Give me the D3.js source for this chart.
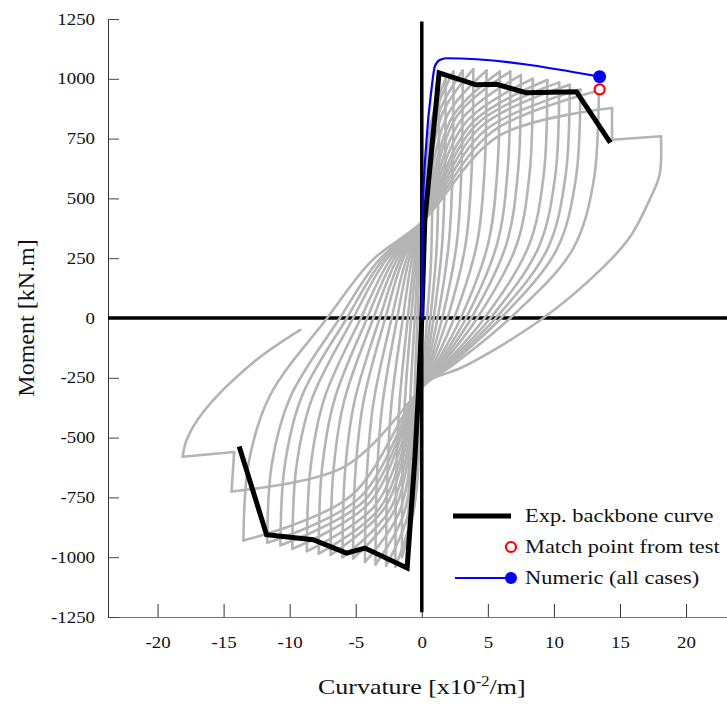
<!DOCTYPE html>
<html>
<head>
<meta charset="utf-8">
<script src="https://cdn.jsdelivr.net/npm/d3@7"></script>
<style>
  body { margin: 0; background: #fff; }
  text { font-family: "Liberation Serif", "Times New Roman", serif; fill: #111; }
</style>
</head>
<body>
<svg id="chart" width="727" height="706"></svg>
<script>
// tick labels
const curvTicks = [-20, -15, -10, -5, 0, 5, 10, 15, 20];
const momentTicks = [-1250, -1000, -750, -500, -250, 0, 250, 500, 750, 1000, 1250];

// test hysteresis (curvature x1e-2/m, moment kN.m)
const loopsEarly = [
  [0, 0], [0.32, 590], [0.8, 720],
  [0.78, 430], [0.68, 215], [0.4, 0], [0.14, -200], [0, -290],
  [-0.24, -560], [-0.6, -700],
  [-0.58, -455], [-0.51, -245], [-0.32, 0], [-0.17, 240], [0, 400],
  [0.52, 740], [1.3, 900],
  [1.26, 540], [1.1, 270], [0.65, 0], [0.22, -200], [0, -290],
  [-0.4, -720], [-1.0, -900],
  [-0.97, -585], [-0.85, -315], [-0.53, 0], [-0.28, 240], [0, 400],
  [0.72, 820], [1.8, 1000],
  [1.75, 600], [1.53, 300], [0.9, 0], [0.31, -200], [0, -290],
  [-0.6, -800], [-1.5, -1000],
  [-1.46, -650], [-1.28, -350], [-0.8, 0], [-0.42, 240], [0, 400],
  [0.96, 845], [2.4, 1030],
  [2.33, 620], [2.04, 310], [1.2, 0], [0.41, -200], [0, -290],
  [-0.8, -830], [-2.0, -1040],
  [-1.94, -675], [-1.7, -365], [-1.06, 0], [-0.56, 240], [0, 400],
  [1.24, 850], [3.1, 1035],
  [3.0, 620], [2.64, 310], [1.55, 0], [0.53, -200], [0, -290],
  [-1.08, -830], [-2.7, -1035],
  [-2.62, -675], [-2.3, -360], [-1.43, 0], [-0.76, 240], [0, 400],
  [1.56, 855], [3.9, 1040],
  [3.78, 625], [3.32, 310], [1.95, 0], [0.66, -200], [0, -290],
  [-1.4, -825], [-3.5, -1030],
  [-3.4, -670], [-2.98, -360], [-1.86, 0], [-0.98, 240], [0, 400]
];
const loopsMid = [
  [1.96, 850], [4.9, 1035],
  [4.75, 620], [4.17, 310], [2.45, 0], [0.83, -200], [0, -290],
  [-1.72, -815], [-4.3, -1020],
  [-4.17, -665], [-3.66, -355], [-2.28, 0], [-1.2, 240], [0, 400],
  [2.36, 845], [5.9, 1030],
  [5.72, 620], [5.02, 310], [2.95, 0], [1.0, -200], [0, -290],
  [-2.08, -805], [-5.2, -1005],
  [-5.04, -655], [-4.42, -350], [-2.76, 0], [-1.46, 240], [0, 400],
  [2.68, 845], [6.7, 1030],
  [6.5, 620], [5.7, 310], [3.35, 0], [1.14, -200], [0, -290],
  [-2.4, -800], [-6.0, -1000],
  [-5.82, -650], [-5.1, -350], [-3.18, 0], [-1.68, 240], [0, 400],
  [3.0, 830], [7.5, 1015],
  [7.28, 610], [6.38, 305], [3.75, 0], [1.28, -200], [0, -290],
  [-2.76, -790], [-6.9, -990],
  [-6.7, -645], [-5.87, -345], [-3.66, 0], [-1.93, 240], [0, 400],
  [3.36, 820], [8.4, 1000],
  [8.15, 600], [7.14, 300], [4.2, 0], [1.43, -200], [0, -290],
  [-3.12, -790], [-7.8, -985],
  [-7.57, -640], [-6.63, -345], [-4.13, 0], [-2.18, 240], [0, 400]
];
const loopsLate = [
  [3.8, 815], [9.5, 995],
  [9.22, 595], [8.08, 300], [4.75, 0], [1.62, -200], [0, -290],
  [-3.48, -780], [-8.7, -975],
  [-8.44, -635], [-7.4, -340], [-4.61, 0], [-2.44, 240], [0, 400],
  [4.16, 810], [10.4, 985],
  [10.09, 590], [8.84, 295], [5.2, 0], [1.77, -200], [0, -290],
  [-3.92, -770], [-9.8, -965],
  [-9.5, -625], [-8.33, -340], [-5.19, 0], [-2.74, 240], [0, 400],
  [4.48, 800], [11.2, 975],
  [10.86, 585], [9.52, 290], [5.6, 0], [1.9, -200], [0, -290],
  [-4.28, -760], [-10.7, -950],
  [-10.38, -620], [-9.1, -330], [-5.67, 0], [-3.0, 240], [0, 400],
  [4.8, 785], [12.0, 955],
  [11.64, 575], [10.2, 285], [6.0, 0], [2.04, -200], [0, -290],
  [-4.68, -750], [-11.7, -940],
  [-11.35, -610], [-9.95, -330], [-6.2, 0], [-3.28, 240], [0, 400],
  [5.36, 780], [13.4, 950],
  [13.0, 570], [11.4, 285], [6.7, 0], [2.28, -200], [0, -290],
  [-5.4, -745], [-13.5, -930],
  [-13.1, -605], [-11.5, -325], [-7.16, 0], [-3.78, 240], [0, 400]
];
const loopFinal = [
  [5.8, 760], [14.4, 878], [14.4, 745], [18.1, 760], [18.0, 600],
  [17.25, 495], [15.7, 334], [13.5, 200], [9.2, 0], [3.1, -205], [0.6, -258], [0, -290],
  [-5.8, -620], [-14.4, -725], [-14.2, -560], [-18.1, -580],
  [-17.8, -510], [-16.6, -397], [-12.8, -188], [-9.2, -50]
];

// experimental backbone
const backbonePos = [[0, 0], [0.23, 410], [1.31, 1025], [4.1, 975], [5.65, 977], [7.9, 942], [11.7, 946], [14.27, 733]];
const backboneNeg = [[0, 0], [-0.28, -340], [-0.53, -593], [-1.11, -1045], [-4.31, -962], [-5.7, -983], [-8.22, -927], [-11.75, -906], [-13.82, -537]];

// numeric curve, end point and test match point
const numeric = [[0, 0], [0.05, 410], [0.36, 745], [0.73, 954], [0.98, 1051], [1.36, 1079], [1.86, 1086], [13.46, 1009]];
const numericEnd = [13.46, 1009];
const matchPoint = [13.46, 956];

const legendLabels = ["Exp. backbone curve", "Match point from test", "Numeric (all cases)"];

const svg = d3.select("#chart");
const SX = 1.18; // text in the picture is stretched sideways

const x = d3.scaleLinear().domain([-23.75, 23.1]).range([108, 727]);
const y = d3.scaleLinear().domain([-1250, 1250]).range([617, 19]);

// axes
const xAxis = svg.append("g")
  .attr("transform", `translate(0,${y(-1250)})`)
  .call(d3.axisBottom(x).tickValues(curvTicks).tickFormat(d => String(d))
    .tickSize(-13).tickSizeOuter(0).tickPadding(20));
xAxis.select(".domain").attr("stroke", "#777");
xAxis.selectAll(".tick line").attr("stroke", "#333");
xAxis.selectAll(".tick text")
  .attr("font-size", 16).attr("font-family", "Liberation Serif").attr("fill", "#111")
  .attr("transform", `scale(${SX},1)`);

const yAxis = svg.append("g")
  .attr("transform", `translate(${x(-23.75)},0)`)
  .call(d3.axisLeft(y).tickValues(momentTicks).tickFormat(d => String(d))
    .tickSize(-11).tickSizeOuter(0).tickPadding(11));
yAxis.select(".domain").attr("stroke", "#333");
yAxis.selectAll(".tick line").attr("stroke", "#444");
yAxis.selectAll(".tick text")
  .attr("font-size", 16).attr("font-family", "Liberation Serif").attr("fill", "#111")
  .attr("transform", `scale(${SX},1)`);

// zero line (horizontal) under the loops
svg.append("line")
  .attr("x1", x(-23.75)).attr("x2", x(23.1))
  .attr("y1", y(0)).attr("y2", y(0))
  .attr("stroke", "#000").attr("stroke-width", 3.5);

// split the test record into branches at each turning point so peaks stay sharp
const record = loopsEarly.concat(loopsMid, loopsLate, loopFinal);
const branches = [];
let cur = [record[0]];
for (let i = 1; i < record.length; i++) {
  cur.push(record[i]);
  const next = record[i + 1];
  if (next) {
    const d1 = record[i][1] - record[i - 1][1];
    const d2 = next[1] - record[i][1];
    if (d1 * d2 < 0) { branches.push(cur); cur = [record[i]]; }
  }
}
branches.push(cur);

const line = d3.line()
  .x(d => x(d[0]))
  .y(d => y(d[1]))
  .curve(d3.curveCatmullRom.alpha(0.5));

svg.append("g")
  .selectAll("path")
  .data(branches)
  .join("path")
    .attr("d", line)
    .attr("fill", "none")
    .attr("stroke", "#b4b4b4")
    .attr("stroke-width", 2.6)
    .attr("stroke-linejoin", "round")
    .attr("stroke-linecap", "round");

// vertical zero line
svg.append("line")
  .attr("x1", x(0)).attr("x2", x(0))
  .attr("y1", y(1240)).attr("y2", y(-1230))
  .attr("stroke", "#000").attr("stroke-width", 3.5);

const straight = d3.line().x(d => x(d[0])).y(d => y(d[1]));
[backbonePos, backboneNeg].forEach(b => {
  svg.append("path")
    .datum(b)
    .attr("d", straight)
    .attr("fill", "none")
    .attr("stroke", "#000")
    .attr("stroke-width", 5)
    .attr("stroke-linejoin", "miter");
});

svg.append("path")
  .datum(numeric)
  .attr("d", d3.line().x(d => x(d[0])).y(d => y(d[1])).curve(d3.curveMonotoneX))
  .attr("fill", "none")
  .attr("stroke", "#0000ff")
  .attr("stroke-width", 2.2);

svg.append("circle")
  .attr("cx", x(numericEnd[0])).attr("cy", y(numericEnd[1]))
  .attr("r", 6.5).attr("fill", "#0000ff");

svg.append("circle")
  .attr("cx", x(matchPoint[0])).attr("cy", y(matchPoint[1]))
  .attr("r", 5).attr("fill", "#fff")
  .attr("stroke", "#ff0000").attr("stroke-width", 2.2);

// legend
const lg = svg.append("g");
lg.append("line").attr("x1", 453).attr("x2", 511).attr("y1", 516).attr("y2", 516)
  .attr("stroke", "#000").attr("stroke-width", 5);
lg.append("circle").attr("cx", 511).attr("cy", 547).attr("r", 5)
  .attr("fill", "#fff").attr("stroke", "#ff0000").attr("stroke-width", 2.2);
lg.append("line").attr("x1", 455).attr("x2", 511).attr("y1", 578).attr("y2", 578)
  .attr("stroke", "#0000ff").attr("stroke-width", 2.2);
lg.append("circle").attr("cx", 511).attr("cy", 578).attr("r", 6).attr("fill", "#0000ff");
lg.selectAll("text.lab")
  .data(legendLabels)
  .join("text")
    .attr("class", "lab")
    .attr("transform", (d, i) => `translate(525,${516 + i * 31}) scale(${SX},1)`)
    .attr("dy", "0.33em")
    .attr("font-size", 19)
    .text(d => d);

// axis titles
const xt = svg.append("text")
  .attr("transform", `translate(${x(0)},694) scale(${SX},1)`)
  .attr("text-anchor", "middle")
  .attr("font-size", 22);
xt.append("tspan").text("Curvature [x10");
xt.append("tspan").attr("font-size", 14).attr("dy", -8).text("-2");
xt.append("tspan").attr("dy", 8).text("/m]");

svg.append("text")
  .attr("transform", `translate(34,${y(0)}) rotate(-90)`)
  .attr("text-anchor", "middle")
  .attr("font-size", 24)
  .text("Moment [kN.m]");
</script>
</body>
</html>
